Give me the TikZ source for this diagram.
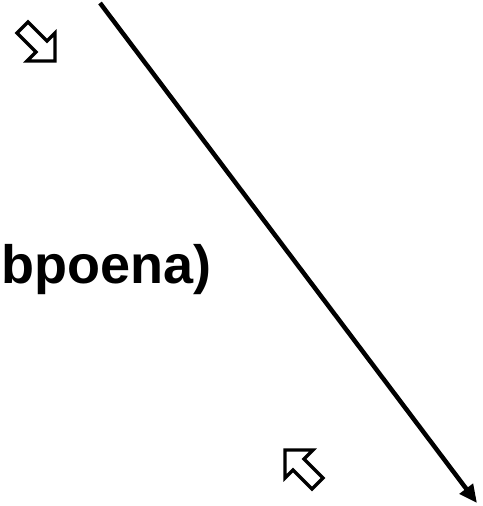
\documentclass[tikz,border=0pt]{standalone}
\usepackage{fontspec}
\setmainfont{Liberation Sans}
\usetikzlibrary{arrows.meta}
\tikzset{
  hollowarrow/.style={draw=black, line width=3.2pt, fill=white, line join=miter},
  mainline/.style={line width=4.5pt, -{Triangle[length=18pt,width=16pt]}},
  bigtext/.style={font=\fontsize{54}{64}\selectfont\bfseries, inner sep=0pt, anchor=base west}
}
\begin{document}
\begin{tikzpicture}[x=1pt,y=-1pt]
\useasboundingbox (0,0) rectangle (482,506);
\coordinate (s) at (100,3);
\coordinate (e) at (477,503);
\draw[mainline] (s) -- (e);
\node[bigtext] (t) at (1,283) {bpoena)};
% hollow arrow pointing down-right
\begin{scope}[shift={(55,61)}]
\draw[hollowarrow] (0,0) -- (0,-28) -- (-8,-20) -- (-27,-39) -- (-38,-28) -- (-19,-9) -- (-28,0) -- cycle;
\end{scope}
% hollow arrow pointing up-left
\begin{scope}[shift={(285,450)}]
\draw[hollowarrow] (0,0) -- (0,28) -- (8,20) -- (27,39) -- (38,28) -- (19,9) -- (28,0) -- cycle;
\end{scope}
\end{tikzpicture}
\end{document}
